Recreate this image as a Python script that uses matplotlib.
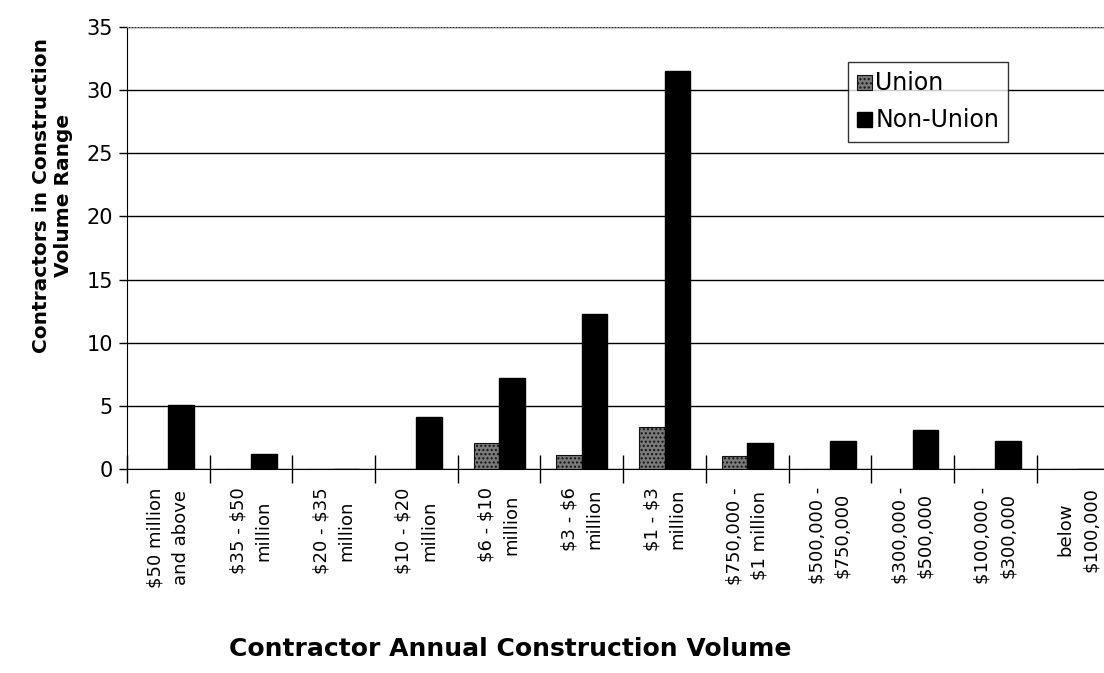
import numpy as np
import matplotlib.pyplot as plt

plt.rcParams['font.family'] = ['DejaVu Sans']

categories = [
    '$50 million\nand above', '$35 - $50\nmillion', '$20 - $35\nmillion',
    '$10 - $20\nmillion', '$6 - $10\nmillion', '$3 - $6\nmillion',
    '$1 - $3\nmillion', '$750,000 -\n$1 million', '$500,000 -\n$750,000',
    '$300,000 -\n$500,000', '$100,000 -\n$300,000', 'below\n$100,000',
]
union = [0, 0, 0, 0, 2.1, 1.1, 3.3, 1.0, 0, 0, 0, 0]
non_union = [5.1, 1.2, 0, 4.1, 7.2, 12.3, 31.5, 2.1, 2.2, 3.1, 2.2, 0]

fig = plt.figure(figsize=(11.04, 6.73), dpi=100)
ax = fig.add_axes([0.115, 0.303, 0.899, 0.657])

x = np.arange(len(categories))
w = 0.31
ax.bar(x - w / 2, union, width=w, color='#7a7a7a', edgecolor='#111111',
       hatch='....', linewidth=0.8, label='Union', zorder=3)
ax.bar(x + w / 2, non_union, width=w, color='black', edgecolor='black',
       label='Non-Union', zorder=3)

ax.set_xlim(-0.5, len(categories) - 0.5)
ax.set_ylim(0, 35)
ax.set_yticks(np.arange(0, 36, 5))
ax.yaxis.grid(True, color='black', linewidth=1.0, zorder=0)
ax.set_axisbelow(True)

# ticks sit on the category boundaries, labels at the centers
labels = [c.replace('$', r'\$') for c in categories]
ax.set_xticks(np.arange(-0.5, len(categories), 1.0))
ax.set_xticklabels([])
ax.set_xticks(x, minor=True)
ax.set_xticklabels(labels, minor=True, rotation=90, fontsize=13,
                   ha='center', va='top', multialignment='center',
                   linespacing=1.5)
ax.tick_params(axis='x', which='major', direction='inout', length=20, width=1)
ax.tick_params(axis='x', which='minor', length=0, pad=13)
ax.tick_params(axis='y', direction='out', length=6, width=1, labelsize=15, pad=4)

ax.spines['right'].set_visible(False)
ax.spines['top'].set_color('#888888')
ax.spines['top'].set_linestyle(':')

ax.set_ylabel('Contractors in Construction\nVolume Range', fontsize=14.5,
              fontweight='bold')
ax.yaxis.set_label_coords(-0.054, 0.618)
ax.set_xlabel('Contractor Annual Construction Volume', fontsize=18,
              fontweight='bold')
ax.xaxis.set_label_coords(0.386, -0.38)

leg = ax.legend(loc='upper left', bbox_to_anchor=(848 / 1104, 1 - 62 / 673),
                bbox_transform=fig.transFigure, fontsize=17, frameon=True,
                fancybox=False, edgecolor='black', handlelength=0.6,
                handleheight=0.6, handletextpad=0.15, borderpad=0.4,
                labelspacing=0.55, borderaxespad=0)
leg.get_frame().set_linewidth(1.0)

fig.savefig('out.png', dpi=100)
